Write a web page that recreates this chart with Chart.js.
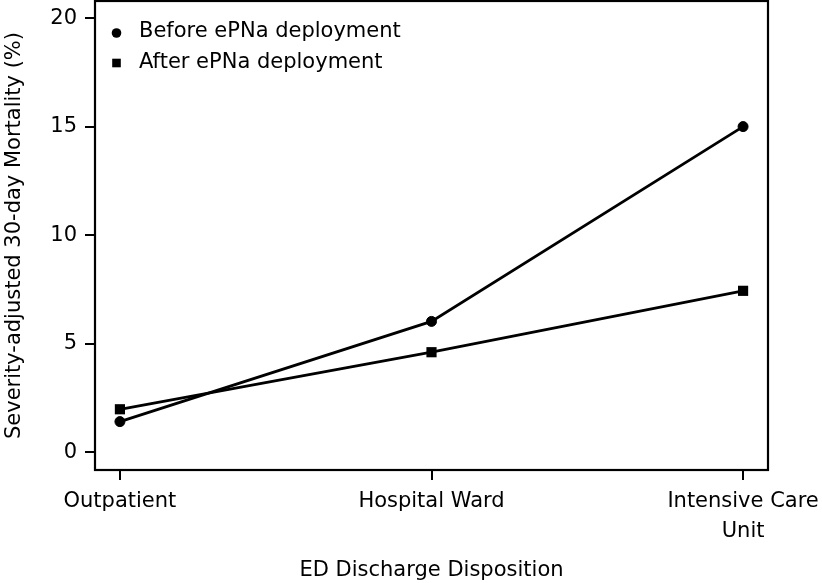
<!DOCTYPE html>
<html>
<head>
<meta charset="utf-8">
<script src="https://cdn.jsdelivr.net/npm/chart.js@4"></script>
<style>
  html, body { margin: 0; padding: 0; background: #fff; }
  #wrap { width: 822px; height: 583px; }
</style>
</head>
<body>
<div id="wrap"><canvas id="c" width="822" height="583"></canvas></div>
<script>
const categories = ['Outpatient', 'Hospital Ward', 'Intensive Care Unit'];
const xTickLabels = [['Outpatient'], ['Hospital Ward'], ['Intensive Care', 'Unit']];
const beforeValues = [1.41, 6.03, 15.01];
const afterValues = [1.98, 4.61, 7.44];
const yTicks = [0, 5, 10, 15, 20];
const seriesNames = ['Before ePNa deployment', 'After ePNa deployment'];

const FONT = 'DejaVu Sans';

const boxPlugin = {
  id: 'box',
  afterDraw(chart) {
    const { ctx, chartArea: a } = chart;
    ctx.save();
    ctx.strokeStyle = '#000';
    ctx.lineWidth = 2.2;
    ctx.strokeRect(a.left, a.top, a.right - a.left, a.bottom - a.top);
    ctx.restore();
  }
};

const legendPlugin = {
  id: 'innerLegend',
  afterDraw(chart) {
    const { ctx } = chart;
    ctx.save();
    ctx.fillStyle = '#000';
    ctx.font = '21px "' + FONT + '"';
    ctx.textBaseline = 'middle';
    ctx.textAlign = 'left';
    const rows = [32, 63];
    chart.data.datasets.forEach((ds, i) => {
      const y = rows[i];
      const mx = 116.5;
      if (ds.pointStyle === 'circle') {
        ctx.beginPath();
        ctx.arc(mx, y + 1, 4.8, 0, Math.PI * 2);
        ctx.fill();
      } else {
        ctx.fillRect(mx - 4.3, y - 4.3, 8.6, 8.6);
      }
      ctx.fillText(ds.label, 139, y);
    });
    ctx.restore();
  }
};

const toPoints = vals => vals.map((v, i) => ({ x: i, y: v }));

new Chart(document.getElementById('c'), {
  type: 'line',
  data: {
    datasets: [
      {
        label: seriesNames[0],
        data: toPoints(beforeValues),
        borderColor: '#000',
        backgroundColor: '#000',
        borderWidth: 2.8,
        pointStyle: 'circle',
        pointRadius: 5,
        pointBorderWidth: 1,
        tension: 0
      },
      {
        label: seriesNames[1],
        data: toPoints(afterValues),
        borderColor: '#000',
        backgroundColor: '#000',
        borderWidth: 2.8,
        pointStyle: 'rect',
        pointRadius: 7.2,
        pointBorderWidth: 0,
        tension: 0
      }
    ]
  },
  options: {
    responsive: false,
    animation: false,
    devicePixelRatio: 1,
    layout: { autoPadding: false, padding: { top: 1, right: 54, left: 0, bottom: 0 } },
    plugins: { legend: { display: false }, tooltip: { enabled: false } },
    scales: {
      x: {
        type: 'linear',
        min: -0.08,
        max: 2.08,
        grid: { drawOnChartArea: false, drawTicks: true, tickLength: 10, color: '#000', lineWidth: 2 },
        border: { display: false },
        afterBuildTicks: s => { s.ticks = categories.map((c, i) => ({ value: i })); },
        afterFit: s => { s.height = 113; s.paddingLeft = 0; s.paddingRight = 0; },
        ticks: {
          color: '#000',
          padding: 7,
          maxRotation: 0,
          autoSkip: false,
          font: { family: FONT, size: 21, lineHeight: 1.4 },
          callback: v => {
            const l = xTickLabels[Math.round(v)];
            return l.length === 1 ? l[0] : l;
          }
        },
        title: {
          display: true,
          text: 'ED Discharge Disposition',
          color: '#000',
          font: { family: FONT, size: 21 },
          padding: { top: 0, bottom: 0 }
        }
      },
      y: {
        type: 'linear',
        min: -0.82,
        max: 20.8,
        grid: { drawOnChartArea: false, drawTicks: true, tickLength: 10, color: '#000', lineWidth: 2 },
        border: { display: false },
        afterBuildTicks: s => { s.ticks = yTicks.map(v => ({ value: v })); },
        afterFit: s => { s.width = 95; s.paddingTop = 0; s.paddingBottom = 0; },
        ticks: {
          color: '#000',
          padding: 8,
          font: { family: FONT, size: 21 },
          callback: v => String(v)
        },
        title: {
          display: true,
          text: 'Severity-adjusted 30-day Mortality (%)',
          color: '#000',
          font: { family: FONT, size: 21 },
          padding: { top: 2, bottom: 0 }
        }
      }
    }
  },
  plugins: [boxPlugin, legendPlugin]
});
</script>
</body>
</html>
